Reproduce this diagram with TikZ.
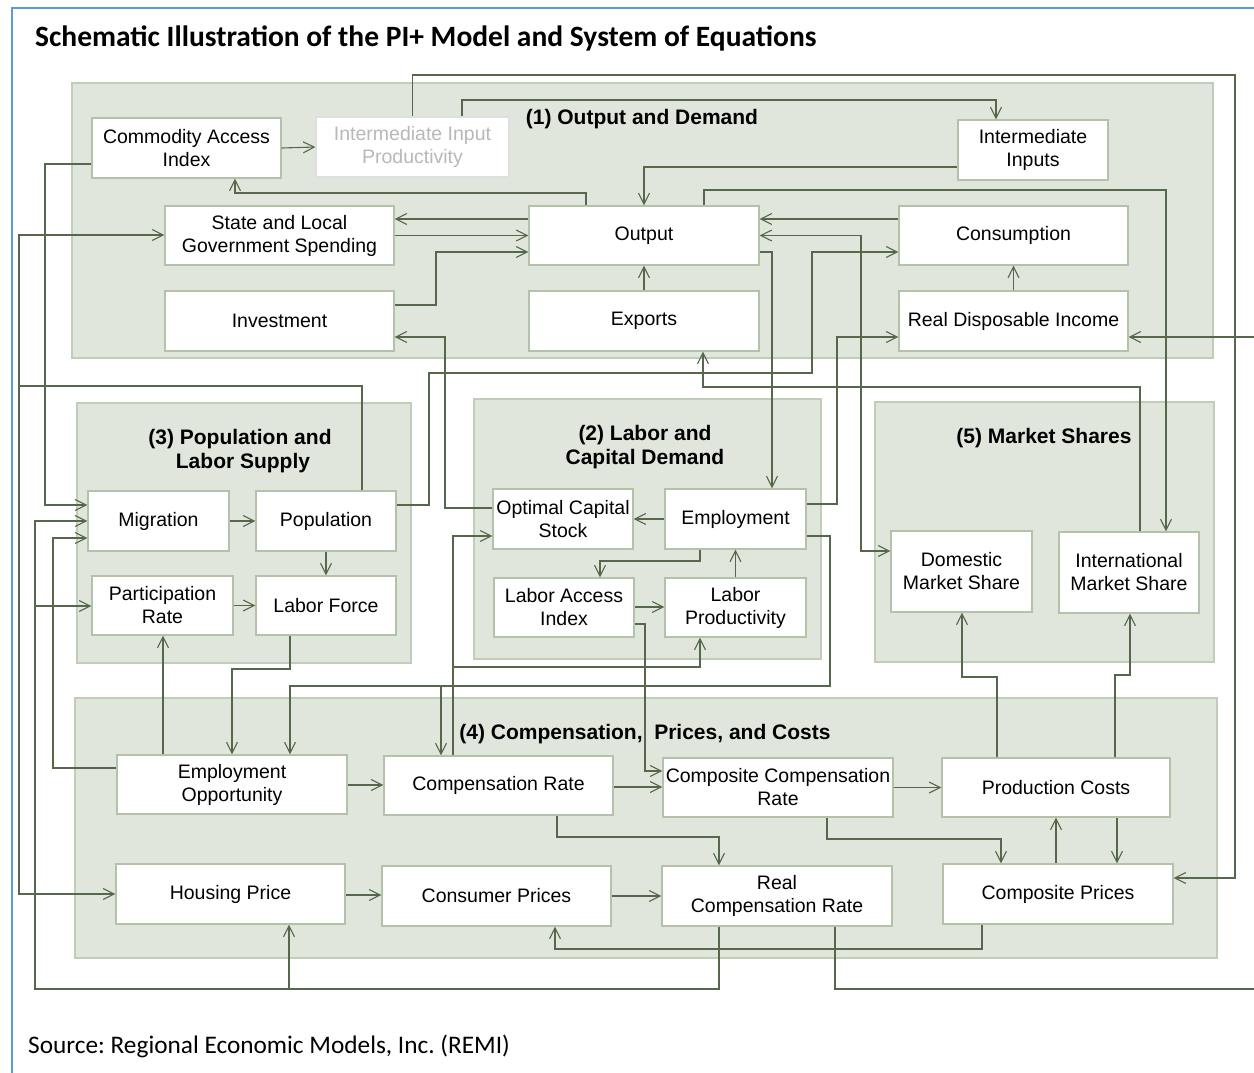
\documentclass[tikz,border=0pt]{standalone}
\usepackage{fontspec}
\setmainfont{Liberation Sans}
\newfontfamily\calib{Carlito}
\usetikzlibrary{arrows.meta}
\definecolor{lc}{HTML}{56674C}
\definecolor{gfill}{HTML}{E1E6DC}
\definecolor{gline}{HTML}{C2CDB9}
\definecolor{bline}{HTML}{B3C2A8}
\definecolor{frameblue}{HTML}{5B9BD5}
\frenchspacing
\begin{document}
\begin{tikzpicture}[x=1pt,y=-1pt,
 box/.style={draw=bline, line width=1.2pt, fill=white, inner sep=0pt, align=center, font=\fontsize{19.5}{23}\selectfont},
 grp/.style={draw=gline, line width=1.2pt, fill=gfill},
 gtitle/.style={font=\fontsize{21}{24}\selectfont\bfseries, align=center, inner sep=0pt},
 arr/.style={draw=lc, line width=1.1pt, -{Straight Barb[length=11pt,width=11pt]}},
 arrs/.style={draw=lc, line width=1.1pt, {Straight Barb[length=11pt,width=11pt]}-{Straight Barb[length=11pt,width=11pt]}},
 ln/.style={draw=lc, line width=1.1pt}]
\clip (0,0) rectangle (1254,1072);
\fill[white] (0,0) rectangle (1254,1072);
% frame
\draw[frameblue, line width=1.5pt] (1256,8) -- (12,8) -- (12,1074);
% title and source
\node[anchor=west, font=\calib\bfseries\fontsize{29.5}{34}\selectfont, inner sep=0pt] (title) at (35,38) {Schematic Illustration of the PI+ Model and System of Equations};
\node[anchor=west, font=\calib\fontsize{25.3}{29}\selectfont, inner sep=0pt] (src) at (28,1046) {Source: Regional Economic Models, Inc. (REMI)};
% groups
\draw[grp] (72,83) rectangle (1213,358);
\draw[grp] (77,403) rectangle (411,663);
\draw[grp] (474,399) rectangle (821,659);
\draw[grp] (875,402) rectangle (1214,662);
\draw[grp] (75,698) rectangle (1217,958);
\node[gtitle] (g1) at (642,119) {(1) Output and Demand};
\node[gtitle] (g3) at (240,451) {(3) Population and\\\hspace*{6pt}Labor Supply};
\node[gtitle] (g2) at (645,447) {(2) Labor and\\Capital Demand};
\node[gtitle] (g5) at (1044,438) {(5) Market Shares};
\node[gtitle] (g4) at (645,734) {(4) Compensation,\ \ Prices, and Costs};
% nodes group 1
\node[box, minimum width=189pt, minimum height=60pt] (cai) at (186.5,148) {Commodity Access\\Index};
\node[box, draw=gray!25, text=black!28, minimum width=193pt, minimum height=60pt] (iip) at (412.5,147) {Intermediate Input\\Productivity};
\node[box, minimum width=150pt, minimum height=60pt] (ii) at (1033,150) {Intermediate\\Inputs};
\node[box, minimum width=229pt, minimum height=59pt] (slgs) at (279.5,235.5) {State and Local\\Government Spending};
\node[box, minimum width=230pt, minimum height=59pt] (out) at (644,235.5) {Output};
\node[box, minimum width=229pt, minimum height=59pt] (cons) at (1013.5,235.5) {Consumption};
\node[box, minimum width=229pt, minimum height=60pt] (inv) at (279.5,321) {Investment};
\node[box, minimum width=230pt, minimum height=60pt] (exp) at (644,321) {Exports};
\node[box, minimum width=229pt, minimum height=60pt] (rdi) at (1013.5,321) {Real Disposable Income};
% group 3
\node[box, minimum width=141pt, minimum height=60pt] (mig) at (158.5,521) {Migration};
\node[box, minimum width=140pt, minimum height=60pt] (pop) at (326,521) {Population};
\node[box, minimum width=141pt, minimum height=59pt] (part) at (162.5,605.5) {Participation\\Rate};
\node[box, minimum width=140pt, minimum height=59pt] (lf) at (326,605.5) {Labor Force};
% group 2
\node[box, minimum width=140pt, minimum height=60pt] (ocs) at (563,519) {Optimal Capital\\Stock};
\node[box, minimum width=141pt, minimum height=60pt] (emp) at (735.5,519) {Employment};
\node[box, minimum width=140pt, minimum height=59pt] (lai) at (564,607.5) {Labor Access\\Index};
\node[box, minimum width=141pt, minimum height=59pt] (lp) at (735.5,607.5) {Labor\\Productivity};
% group 5
\node[box, minimum width=141pt, minimum height=81pt] (dms) at (961.5,571.5) {Domestic\\Market Share};
\node[box, minimum width=140pt, minimum height=81pt] (ims) at (1129,572.5) {International\\Market Share};
% group 4
\node[box, minimum width=230pt, minimum height=59pt] (eo) at (232,784.5) {Employment\\Opportunity};
\node[box, minimum width=229pt, minimum height=59pt] (cr) at (498.5,785.5) {Compensation Rate};
\node[box, minimum width=230pt, minimum height=59pt] (ccr) at (778,787.5) {Composite Compensation\\Rate};
\node[box, minimum width=228pt, minimum height=59pt] (pc) at (1056,787.5) {Production Costs};
\node[box, minimum width=229pt, minimum height=60pt] (hp) at (230.5,894) {Housing Price};
\node[box, minimum width=229pt, minimum height=60pt] (cp) at (496.5,896) {Consumer Prices};
\node[box, minimum width=230pt, minimum height=60pt] (rcr) at (777,896) {Real\\Compensation Rate};
\node[box, minimum width=230pt, minimum height=60pt] (comp) at (1058,894) {Composite Prices};
% junction coordinates
\coordinate (j1) at (19,386);
\coordinate (j2) at (35,606);
\coordinate (j3) at (289,989);
\coordinate (j4) at (441,686);
\coordinate (j5) at (453,667);
% connectors: group 1
\draw[arr] (cai.east) -- (iip.west);
\draw[arr] (iip.north) |- (1235,75) |- (comp.east |- 0,878);
\draw[arr] (iip.north -| 462,0) |- (996,100) -- (ii.north -| 996,0);
\draw[arr] (ii.west |- 0,167) -| (out.north);
\draw[arr] (out.north -| 586,0) |- (235,193) -- (cai.south -| 235,0);
\draw[arr] (out.north -| 704,0) |- (1166,190) -- (ims.north -| 1166,0);
\draw[arr] (out.west |- 0,219) -- (slgs.east |- 0,219);
\draw[arr] (slgs.east) -- (out.west);
\draw[arr] (inv.east |- 0,305) -| (436,252) -- (out.west |- 0,252);
\draw[arr] (exp.north) -- (out.south);
\draw[arr] (cons.west |- 0,219) -- (out.east |- 0,219);
\draw[arrs] (out.east) -| (861,551) -- (dms.west |- 0,551);
\draw[arr] (out.east |- 0,252) -| (emp.north -| 772,0);
\draw[arr] (pop.east |- 0,505) -| (429,373) -| (812,252) -- (cons.west |- 0,252);
\draw[arr] (emp.east |- 0,504) -| (837,337) -- (rdi.west |- 0,337);
\draw[arr] (rcr.south -| 835,0) |- (1262,989) |- (rdi.east |- 0,337);
\draw[arr] (rdi.north) -- (cons.south);
\draw[arr] (ims.north -| 1140,0) |- (703,387) -- (exp.south -| 703,0);
% left side
\draw[arr] (cai.west |- 0,164) -| (45,505) -- (mig.west |- 0,505);
\draw[arr] (pop.north -| 362,0) |- (j1) |- (slgs.west |- 0,235);
\draw[arr] (j1) |- (hp.west |- 0,894);
\draw[arr] (ocs.west |- 0,508) -| (445,337) -- (inv.east |- 0,337);
% group 3
\draw[arr] (mig.east) -- (pop.west);
\draw[arr] (pop.south) -- (lf.north);
\draw[arr] (part.east) -- (lf.west);
\draw[arr] (rcr.south -| 719,0) |- (35,989) |- (mig.west |- 0,521);
\draw[arr] (j2) -- (part.west |- 0,606);
\draw[arr] (j3) -- (hp.south -| 289,0);
\draw[arr] (eo.west |- 0,768) -| (53,538) -- (mig.west |- 0,538);
\draw[arr] (eo.north -| 163,0) -- (part.south -| 163,0);
\draw[arr] (lf.south -| 290,0) |- (232,669) -- (eo.north -| 232,0);
\draw[arr] (emp.east |- 0,536) -| (830,686) -| (eo.north -| 290,0);
\draw[arr] (j4) -- (cr.north -| 441,0);
% group 2
\draw[arr] (emp.west) -- (ocs.east);
\draw[arr] (emp.south -| 700,0) |- (600,561) -- (lai.north -| 600,0);
\draw[arr] (lai.east |- 0,607) -- (lp.west |- 0,607);
\draw[arr] (lp.north) -- (emp.south);
\draw[arr] (cr.north -| 453,0) |- (ocs.west |- 0,536);
\draw[arr] (j5) -| (lp.south -| 700,0);
\draw[arr] (lai.east |- 0,624) -| (645,771) -- (ccr.west |- 0,771);
% group 4
\draw[arr] (cr.east |- 0,787) -- (ccr.west |- 0,787);
\draw[arr] (cr.south -| 557,0) |- (719,837) -- (rcr.north -| 719,0);
\draw[arr] (cp.east) -- (rcr.west);
\draw[arr] (hp.east |- 0,895) -- (cp.west |- 0,895);
\draw[arr] (eo.east |- 0,785) -- (cr.west |- 0,785);
\draw[arr] (comp.south -| 982,0) |- (555,949) -- (cp.south -| 555,0);
\draw[arr] (ccr.east) -- (pc.west);
\draw[arr] (ccr.south -| 827,0) |- (1001,839) -- (comp.north -| 1001,0);
\draw[arr] (comp.north -| 1056,0) -- (pc.south -| 1056,0);
\draw[arr] (pc.south -| 1117,0) -- (comp.north -| 1117,0);
\draw[arr] (pc.north -| 997,0) |- (962,677) -- (dms.south -| 962,0);
\draw[arr] (pc.north -| 1115,0) |- (1130,675) -- (ims.south -| 1130,0);
\end{tikzpicture}
\end{document}
